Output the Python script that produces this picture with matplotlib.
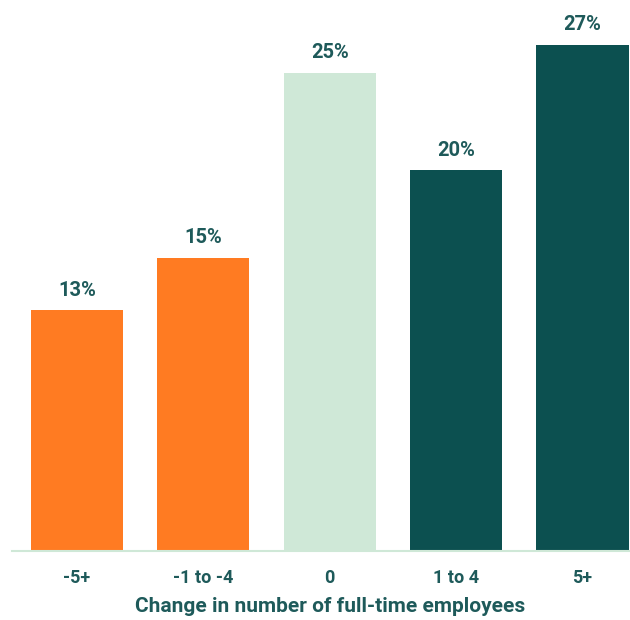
import matplotlib.pyplot as plt

plt.rcParams['font.family'] = ['Roboto', 'DejaVu Sans']

categories = ['-5+', '-1 to -4', '0', '1 to 4', '5+']
shares = [12.9, 15.7, 25.6, 20.4, 27.1]
share_labels = ['13%', '15%', '25%', '20%', '27%']
bar_colors = ['#FF7B22', '#FF7B22', '#CFE8D7', '#0C5050', '#0C5050']

text_color = '#1E5A5A'

fig = plt.figure(figsize=(6.3, 6.2), dpi=100)
ax = fig.add_axes([0.019, 0.111, 0.981, 0.889])

xs = range(len(categories))
bars = ax.bar(xs, shares, width=0.73, color=bar_colors)

for bar, lab in zip(bars, share_labels):
    ax.annotate(lab, (bar.get_x() + bar.get_width() / 2, bar.get_height()),
                xytext=(0, 7.5), textcoords='offset points', ha='center', va='bottom',
                fontsize=14.5, fontweight='bold', color=text_color)

ax.set_xlim(-0.514, 4.376)
ax.set_ylim(0, 29.5)
ax.set_xticks(list(xs))
ax.set_xticklabels(categories, fontsize=13, fontweight='bold', color=text_color)
ax.tick_params(axis='x', length=0, pad=13)
ax.set_yticks([])
ax.set_xlabel('Change in number of full-time employees', fontsize=15,
              fontweight='bold', color=text_color, va='center')
ax.xaxis.set_label_coords(0.514, -0.1)

for s in ['top', 'right', 'left']:
    ax.spines[s].set_visible(False)
ax.spines['bottom'].set_color('#CFE8D7')
ax.spines['bottom'].set_linewidth(1.5)

fig.savefig('out.png', dpi=100)
